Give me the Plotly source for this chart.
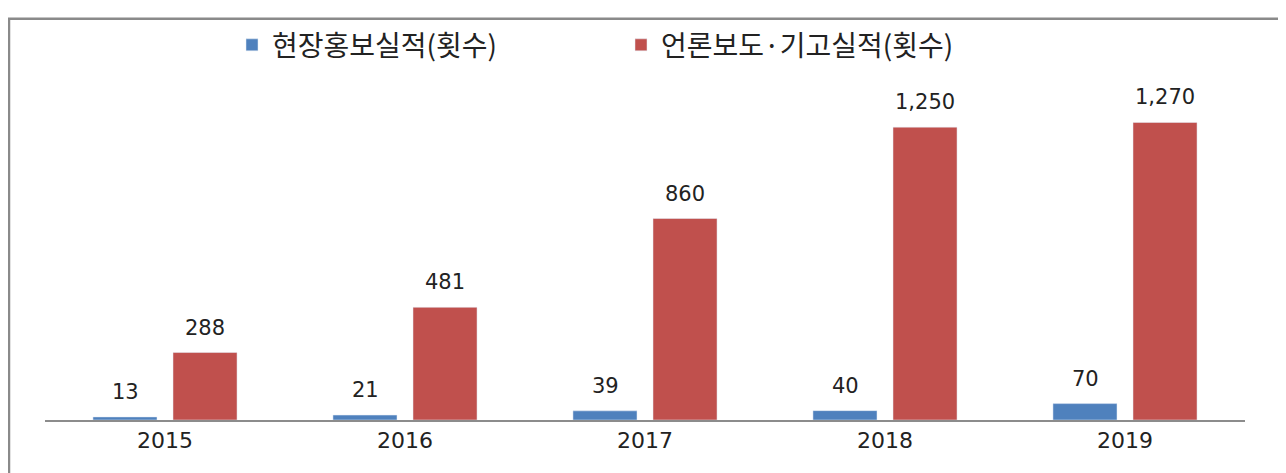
import plotly.graph_objects as go

years = ["2015", "2016", "2017", "2018", "2019"]
field_pr = [13, 21, 39, 40, 70]
press = [288, 481, 860, 1250, 1270]
name_field = "현장홍보실적(횟수)"
name_press = "언론보도·기고실적(횟수)"

BLUE = "#4F81BD"
RED = "#C0504D"
FONT = "DejaVu Sans, Noto Sans CJK KR, sans-serif"

# page is offset by the 8px body margin; plot area maps to page x 45..1245, y 84..420
W, H = 1278, 465
L, R, T, B = 37, 41, 76, 53
PW = W - L - R      # 1200
PH = H - T - B      # 336

fig = go.Figure()
fig.add_trace(go.Bar(x=years, y=field_pr, name=name_field, marker_color=BLUE))
fig.add_trace(go.Bar(x=years, y=press, name=name_press, marker_color=RED))

annotations = []
for series, shift in ((field_pr, -40), (press, 40)):
    for idx, v in enumerate(series):
        annotations.append(dict(x=idx, y=v, xref="x", yref="y", text=f"{v:,}",
                                showarrow=False, xshift=shift, yshift=11,
                                yanchor="bottom", xanchor="center",
                                font=dict(size=21, color="#222", family=FONT)))

fig.update_layout(
    width=W, height=H,
    margin=dict(l=L, r=R, t=T, b=B),
    paper_bgcolor="white", plot_bgcolor="white",
    barmode="group", bargap=0.333, bargroupgap=0.2,
    font=dict(family=FONT, color="#222"),
    showlegend=True,
    legend=dict(orientation="h", x=(232 - 45) / PW, xanchor="left",
                y=(420 - 36) / PH, yanchor="middle",
                font=dict(size=28, family="Noto Sans CJK KR, sans-serif", color="#222"),
                entrywidth=344, itemwidth=30, bgcolor="rgba(0,0,0,0)"),
    xaxis=dict(type="category", showline=True, linecolor="#8c8c8c", linewidth=1.5,
               ticks="", tickfont=dict(size=22, color="#222"), showgrid=False),
    yaxis=dict(range=[0, 1400], visible=False, showgrid=False, zeroline=False),
    annotations=annotations,
    shapes=[dict(type="rect", xref="paper", yref="paper",
                 x0=(9 - 45) / PW, x1=(1281 - 45) / PW,
                 y0=(420 - 480) / PH, y1=(420 - 9) / PH,
                 line=dict(color="#8a8a8a", width=2.5), fillcolor="rgba(0,0,0,0)",
                 layer="below")],
)

fig.write_html("out.html")
